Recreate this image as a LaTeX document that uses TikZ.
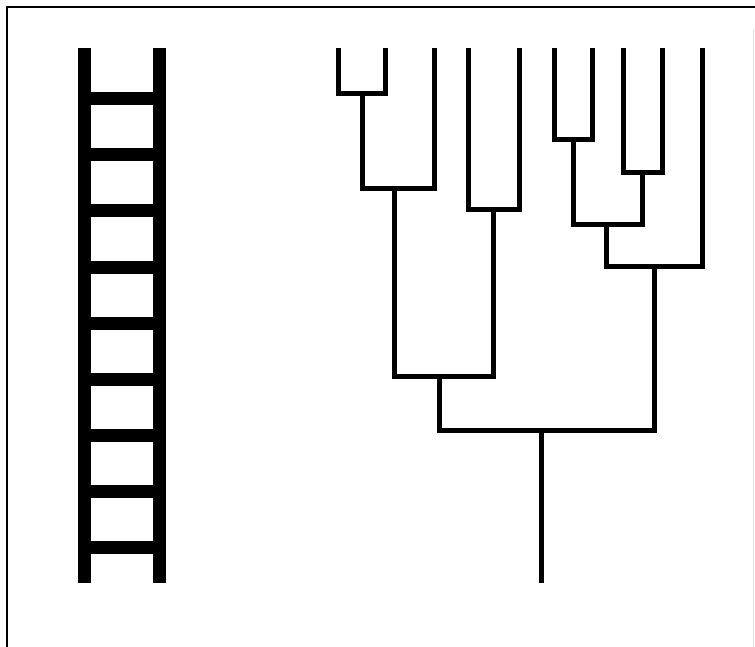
\documentclass[tikz,border=0pt]{standalone}
\begin{document}
\begin{tikzpicture}[x=1pt,y=-1pt,
  frame/.style={line width=2.6pt,black},
  rail/.style={line width=13pt,black},
  rung/.style={line width=13pt,black},
  branch/.style={line width=5pt,black,line join=miter,line cap=butt}]
\useasboundingbox (0,0) rectangle (755,647);
% frame
\coordinate (fTL) at (7,7);
\coordinate (fTR) at (755,7);
\coordinate (fBL) at (7,647);
\draw[frame] (fTR) -- (fTL) -- (fBL);
\draw[black!12,line width=1pt] (753,30) -- (753,647);
% ladder
\coordinate (lt) at (84,48);
\coordinate (lb) at (84,583);
\coordinate (rt) at (159,48);
\coordinate (rb) at (159,583);
\draw[rail] (lt) -- (lb);
\draw[rail] (rt) -- (rb);
\foreach \i in {0,...,8}{
  \coordinate (rl\i) at (84,99+56*\i);
  \coordinate (rr\i) at (159,99+56*\i);
  \draw[rung] (rl\i) -- (rr\i);
}
% tree: leaves
\coordinate (L1) at (338,48);
\coordinate (L2) at (385,48);
\coordinate (L3) at (434,48);
\coordinate (L4) at (468,48);
\coordinate (L5) at (519,48);
\coordinate (L6) at (554,48);
\coordinate (L7) at (592,48);
\coordinate (L8) at (623,48);
\coordinate (L9) at (662,48);
\coordinate (L10) at (702,48);
% internal nodes
\coordinate (A) at (362,94);
\coordinate (B) at (394,189);
\coordinate (C) at (493,210);
\coordinate (D) at (439,376);
\coordinate (E) at (573,140);
\coordinate (F) at (642,173);
\coordinate (G) at (606,225);
\coordinate (H) at (654,266);
\coordinate (R) at (541,430);
\coordinate (root) at (541,583);
% edges
\draw[branch] (L1) |- (A) -| (L2);
\draw[branch] (A) |- (B) -| (L3);
\draw[branch] (L4) |- (C) -| (L5);
\draw[branch] (B) |- (D) -| (C);
\draw[branch] (L6) |- (E) -| (L7);
\draw[branch] (L8) |- (F) -| (L9);
\draw[branch] (E) |- (G) -| (F);
\draw[branch] (G) |- (H) -| (L10);
\draw[branch] (D) |- (R) -| (H);
\draw[branch] (R) -- (root);
\end{tikzpicture}
\end{document}
